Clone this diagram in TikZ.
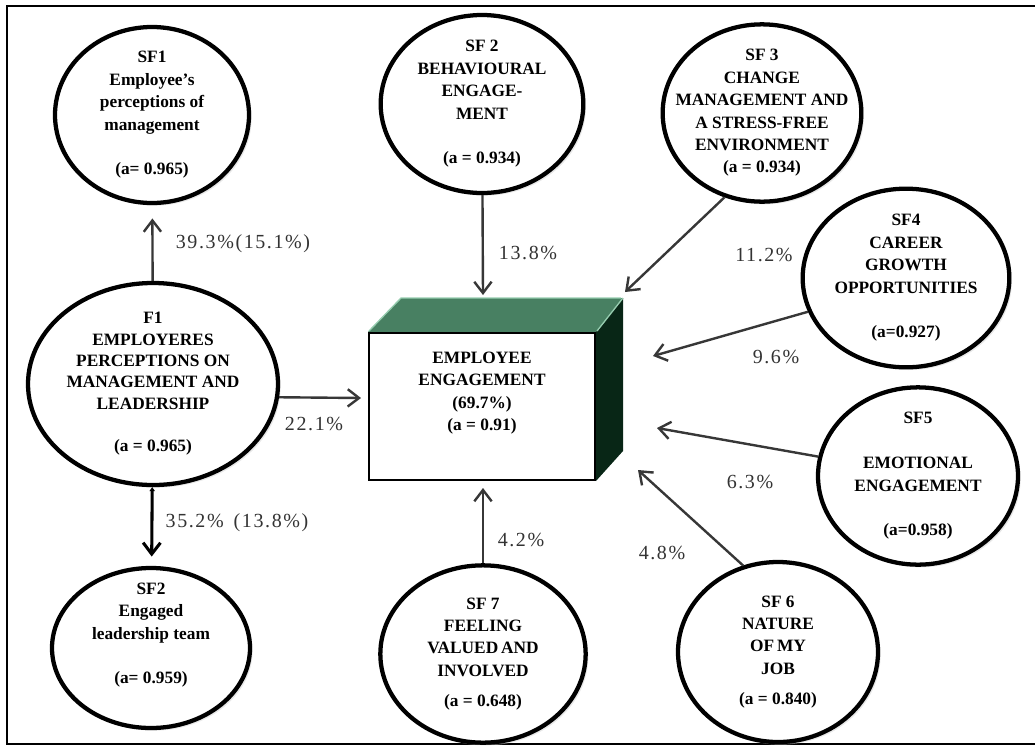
\documentclass[tikz,border=0pt]{standalone}
\usepackage{xcolor}
\usepackage{fontspec}
\setmainfont{Liberation Serif}
\newfontfamily\pctfont[LetterSpace=8]{Liberation Serif}
\usetikzlibrary{shapes.geometric,arrows.meta,calc,shadows,backgrounds}
\definecolor{boxtop}{RGB}{72,128,98}
\definecolor{boxside}{RGB}{8,38,22}
\definecolor{boxedge}{RGB}{150,205,175}
\definecolor{linegray}{RGB}{55,55,55}

\begin{document}
\begin{tikzpicture}[x=0.75pt,y=0.75pt,yscale=-1,xscale=1,
  factor/.style={draw=black, line width=3.2pt, ellipse, fill=white, inner sep=-25pt, align=center,
    font=\bfseries\fontsize{13}{16.8}\selectfont,
    drop shadow={shadow xshift=2pt, shadow yshift=-2pt, fill=black!18}},
  frontbox/.style={draw=black, line width=1.5pt, fill=white, rectangle},
  boxtext/.style={align=center, font=\bfseries\fontsize{13}{16.8}\selectfont},
  conn/.style={draw=linegray, line width=1.8pt, -{Straight Barb[length=8.5pt,width=13pt]}},
  pct/.style={text=black!80, font=\pctfont\fontsize{15}{18}\selectfont},
]
\useasboundingbox (0,0) rectangle (1035,747);

%Shape: Frame
\draw [line width=1.1pt] (1036,6) -- (7,6) -- (7,744) -- (1036,744) ;

%Shape: Ellipse [SF1]
\node [factor, minimum width=145.5pt, minimum height=132pt] (sf1) at (152,115) {SF1\\Employee's\\perceptions of\\management\\[16.8pt](a= 0.965)};
%Shape: Ellipse [F1]
\node [factor, minimum width=187.5pt, minimum height=151.5pt, font=\bfseries\fontsize{13}{16}\selectfont] (f1) at (153,384) {F1\\EMPLOYERES\\PERCEPTIONS ON\\MANAGEMENT AND\\LEADERSHIP\\[16pt](a = 0.965)};
%Shape: Ellipse [SF2 leadership]
\node [factor, minimum width=148.5pt, minimum height=120pt] (sf2l) at (151,648) {SF2\\Engaged\\leadership team\\[16.8pt](a= 0.959)\\\strut};
%Shape: Ellipse [SF2 behavioural]
\node [factor, minimum width=152pt, minimum height=133.5pt] (sf2b) at (482,104) {SF 2\\BEHAVIOURAL\\ENGAGE-\\MENT\\[16.8pt](a = 0.934)};
%Shape: Ellipse [SF3]
\node [factor, minimum width=149pt, minimum height=133pt] (sf3) at (762,113) {SF 3\\CHANGE\\MANAGEMENT AND\\A STRESS-FREE\\ENVIRONMENT\\(a = 0.934)};
%Shape: Ellipse [SF4]
\node [factor, minimum width=155pt, minimum height=134pt] (sf4) at (906,278) {SF4\\CAREER\\GROWTH\\OPPORTUNITIES\\[16.8pt](a=0.927)};
%Shape: Ellipse [SF5]
\node [factor, minimum width=150pt, minimum height=133pt] (sf5) at (918,476) {SF5\\[16.8pt]EMOTIONAL\\ENGAGEMENT\\[16.8pt](a=0.958)};
%Shape: Ellipse [SF6]
\node [factor, minimum width=150pt, minimum height=135pt] (sf6) at (778,652) {SF 6\\NATURE\\OF\,MY\\JOB\\[6pt](a = 0.840)};
%Shape: Ellipse [SF7]
\node [factor, minimum width=154pt, minimum height=133pt] (sf7) at (483,654) {SF 7\\FEELING\\VALUED\,AND\\INVOLVED\\[6pt](a = 0.648)};

%Shape: Box [employee engagement]
\node [frontbox, minimum width=169.5pt, minimum height=110.25pt] (ee) at (482,406.5) {};
\begin{scope}[on background layer]
\fill [boxtop] (ee.north west) -- (ee.north east) -- ++(27,-34) -- ($(ee.north west)+(33,-34)$) -- cycle ;
\fill [boxside] (ee.north east) -- ++(27,-34) -- ($(ee.south east)+(27,-30)$) -- (ee.south east) -- cycle ;
\end{scope}
\draw [boxedge, line width=1pt] ($(ee.north east)+(1,-1)$) -- ++(26,-33) ;
\draw [boxedge, line width=1pt] ($(ee.north west)+(1,-1)$) -- ++(32,-33) -- ++(220,0) ;
% Text Node
\node [boxtext] (eelbl) at (482,393) {EMPLOYEE\\ENGAGEMENT\\(69.7\%)\\(a = 0.91)};

%Arrow tips
\coordinate (t1) at (361,398);
\coordinate (t2) at (483,295);
\coordinate (t3) at (625,292);
\coordinate (t4) at (653,356);
\coordinate (t5) at (657,428);
\coordinate (t6) at (638,470);
\coordinate (t7) at (483,488);

%Straight Lines
\draw [conn, shorten >=10pt] (f1) -- (sf1) ;
\draw [conn] (f1.-6) -- (t1) ;
\draw [line width=2.3pt, {Triangle[length=3pt,width=4pt]}-{Straight Barb[length=8.5pt,width=13pt]}, shorten >=7pt] (f1) -- (sf2l) ;
\draw [conn] (sf2b) -- (t2) ;
\draw [conn] (sf3.246) -- (t3) ;
\draw [conn] (sf4.199) -- (t4) ;
\draw [conn] (sf5.169) -- (t5) ;
\draw [conn] (sf6.112) -- (t6) ;
\draw [conn] (sf7) -- (t7) ;

% Text Node
\node [pct] (p1) at (243,244) {39.3\%(15.1\%)};
% Text Node
\node [pct] (p2) at (314,424) {22.1\%};
% Text Node
\node [pct] (p3) at (237,523) {35.2\%\hspace{0.5em}(13.8\%)};
% Text Node
\node [pct] (p4) at (528,253) {13.8\%};
% Text Node
\node [pct] (p5) at (764,255) {11.2\%};
% Text Node
\node [pct] (p6) at (776,357) {9.6\%};
% Text Node
\node [pct] (p7) at (750,482) {6.3\%};
% Text Node
\node [pct] (p8) at (662,553) {4.8\%};
% Text Node
\node [pct] (p9) at (521,540) {4.2\%};

\end{tikzpicture}
\end{document}
